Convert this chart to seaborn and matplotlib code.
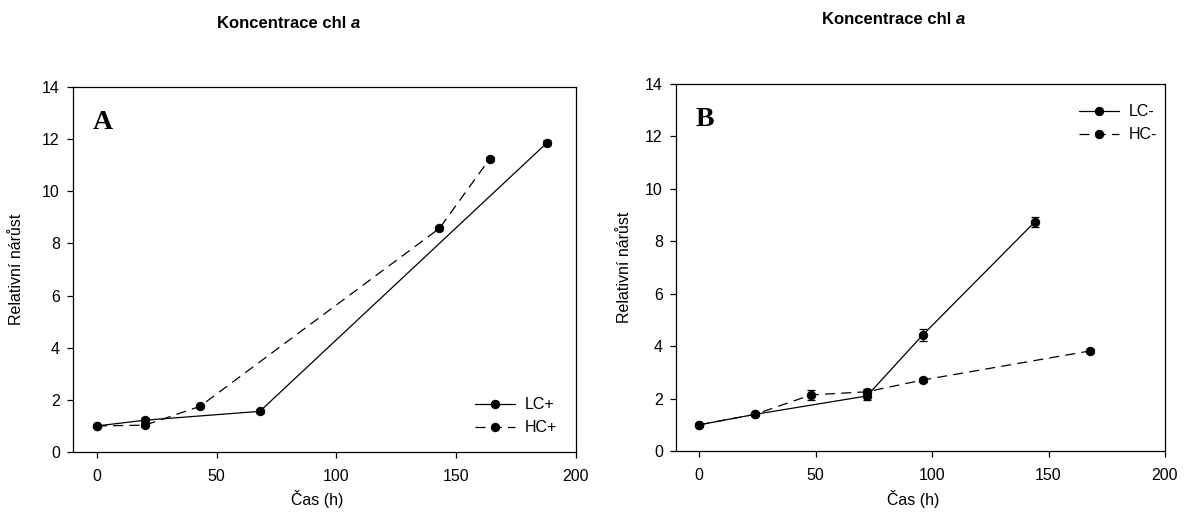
import pandas as pd
import seaborn as sns
import matplotlib.pyplot as plt

# panel A data
t_lc_plus = [0, 20, 68, 188]
v_lc_plus = [1.0, 1.22, 1.56, 11.87]
e_lc_plus = [0.03, 0.08, 0.06, 0.08]
t_hc_plus = [0, 20, 43, 143, 164]
v_hc_plus = [1.0, 1.03, 1.75, 8.58, 11.25]
e_hc_plus = [0.03, 0.05, 0.07, 0.08, 0.07]

# panel B data
t_lc_minus = [0, 24, 72, 96, 144]
v_lc_minus = [1.0, 1.40, 2.10, 4.43, 8.73]
e_lc_minus = [0.03, 0.05, 0.15, 0.22, 0.2]
t_hc_minus = [0, 24, 48, 72, 96, 168]
v_hc_minus = [1.0, 1.40, 2.14, 2.26, 2.71, 3.82]
e_hc_minus = [0.03, 0.05, 0.2, 0.1, 0.08, 0.08]

sns.set_theme(style='ticks')
plt.rcParams['font.family'] = ['Liberation Sans', 'DejaVu Sans']
plt.rcParams['axes.edgecolor'] = 'black'
plt.rcParams['axes.linewidth'] = 0.9
plt.rcParams['text.color'] = 'black'
plt.rcParams['axes.labelcolor'] = 'black'
plt.rcParams['xtick.color'] = 'black'
plt.rcParams['ytick.color'] = 'black'

fig = plt.figure(figsize=(11.99, 5.18), dpi=100)
ax_a = fig.add_axes([0.0609, 0.1274, 0.4195, 0.7046])
ax_b = fig.add_axes([0.5638, 0.1293, 0.4078, 0.7085])


def make_df(t1, v1, n1, t2, v2, n2):
    d1 = pd.DataFrame({'t': t1, 'v': v1, 'series': n1})
    d2 = pd.DataFrame({'t': t2, 'v': v2, 'series': n2})
    return pd.concat([d1, d2], ignore_index=True)


def draw(ax, df, names, errs, letter, leg_anchor, ylab_x, xlab_y):
    sns.lineplot(data=df, x='t', y='v', style='series', ax=ax,
                 dashes={names[0]: '', names[1]: (8, 5)},
                 markers={names[0]: 'o', names[1]: 'o'},
                 color='black', linewidth=0.9, markersize=6,
                 markeredgecolor='black', style_order=names)
    for name, err in zip(names, errs):
        sub = df[df['series'] == name]
        ax.errorbar(sub['t'], sub['v'], yerr=err, fmt='none', ecolor='black',
                    elinewidth=0.9, capsize=3, capthick=0.9)
    ax.set_xlim(-10, 200)
    ax.set_ylim(0, 14)
    ax.set_xticks([0, 50, 100, 150, 200])
    ax.set_yticks([0, 2, 4, 6, 8, 10, 12, 14])
    ax.tick_params(direction='out', length=4, width=0.9, labelsize=11.5,
                   colors='black')
    ax.tick_params(axis='x', pad=8)
    ax.tick_params(axis='y', pad=5.5)
    ax.set_xlabel('Čas (h)', fontsize=11.5, color='black')
    ax.set_ylabel('Relativní nárůst', fontsize=11.5, color='black')
    ax.xaxis.set_label_coords(0.485, xlab_y)
    ax.yaxis.set_label_coords(ylab_x, 0.5)
    ax.text(0.04, 0.885, letter, transform=ax.transAxes, fontsize=20,
            fontweight='bold', family='Liberation Serif', va='baseline',
            color='black')
    leg = ax.legend(frameon=False, loc='upper left', bbox_to_anchor=leg_anchor,
                    borderpad=0, borderaxespad=0, handlelength=2.5,
                    handletextpad=0.6, labelspacing=0.5, fontsize=11.5)
    for txt in leg.get_texts():
        txt.set_color('black')
    for s in ax.spines.values():
        s.set_visible(True)


df_a = make_df(t_lc_plus, v_lc_plus, 'LC+', t_hc_plus, v_hc_plus, 'HC+')
draw(ax_a, df_a, ['LC+', 'HC+'], [e_lc_plus, e_hc_plus], 'A',
     (0.8, 0.15), -0.097, -0.104)

df_b = make_df(t_lc_minus, v_lc_minus, 'LC-', t_hc_minus, v_hc_minus, 'HC-')
draw(ax_b, df_b, ['LC-', 'HC-'], [e_lc_minus, e_hc_minus], 'B',
     (0.825, 0.945), -0.09, -0.106)

# titles with italic "a"
for xr, y in [(346, 23), (951, 20)]:
    fy = 1 - y / 518
    fig.text(xr / 1199, fy, 'Koncentrace chl', ha='right', va='center',
             fontsize=12, fontweight='bold', color='black')
    fig.text((xr + 5) / 1199, fy, 'a', ha='left', va='center',
             fontsize=12, fontweight='bold', fontstyle='italic', color='black')

fig.savefig('out.png', dpi=100)
